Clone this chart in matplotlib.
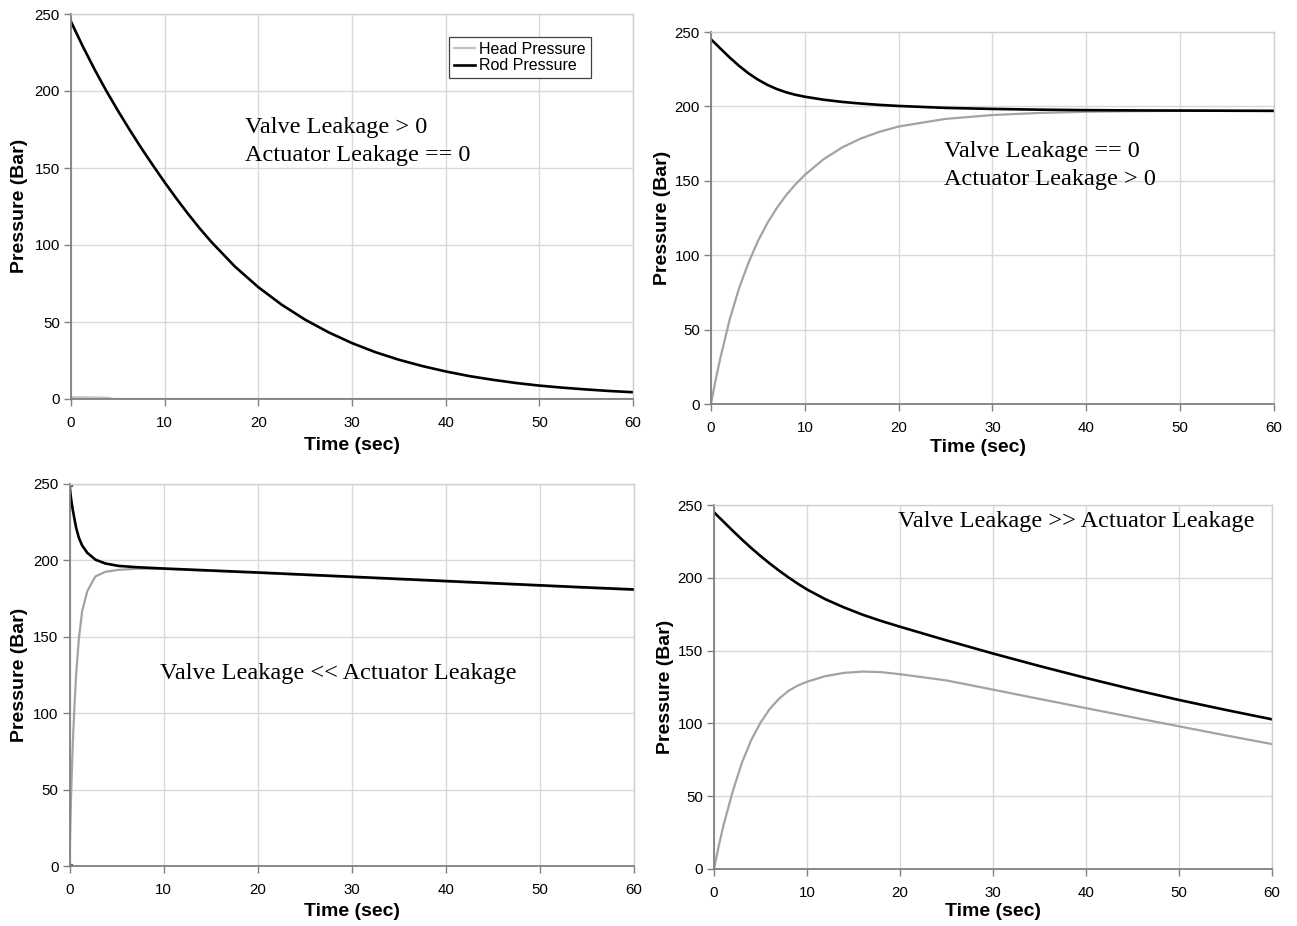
import matplotlib.pyplot as plt

plt.rcParams['font.family'] = ['Liberation Sans', 'DejaVu Sans']

W, H = 1297, 926

# ---- Case 1: valve leakage only -------------------------------------------
time_1 = [0, 1.25, 2.5, 3.75, 5, 6.25, 7.5, 8.75, 10, 11.25, 12.5, 13.75, 15,
          17.5, 20, 22.5, 25, 27.5, 30, 32.5, 35, 37.5, 40, 42.5, 45, 47.5,
          50, 52.5, 55, 57.5, 60]
rod_1 = [245, 229.1, 214.2, 200.3, 187.3, 174.9, 163.0, 151.7, 140.7, 130.2,
         120.2, 110.7, 101.9, 86.0, 72.6, 61.2, 51.5, 43.3, 36.3, 30.4, 25.5,
         21.4, 17.9, 14.9, 12.5, 10.4, 8.7, 7.35, 6.2, 5.2, 4.4]
head_time_1 = [0, 2, 4, 4.5, 60]
head_1 = [1.2, 1.0, 0.8, 0, 0]

# ---- Case 2: actuator leakage only ----------------------------------------
time_2 = [0, 0.5, 1, 2, 3, 4, 5, 6, 7, 8, 9, 10, 12, 14, 16, 18, 20, 25, 30,
          35, 40, 45, 50, 55, 60]
rod_2 = [245, 242, 238.9, 232.8, 227.2, 222.2, 218, 214.5, 211.7, 209.5,
         207.8, 206.5, 204.5, 203, 201.9, 201, 200.3, 199, 198.3, 197.8,
         197.5, 197.3, 197.2, 197.1, 197]
head_2 = [0, 16.5, 31, 57, 78, 95, 109.5, 121.5, 131.6, 140.3, 147.6, 154,
          164.5, 172.5, 178.5, 183, 186.5, 191.6, 194.2, 195.6, 196.4, 196.8,
          197, 197, 197]

# ---- Case 3: valve leakage << actuator leakage ----------------------------
time_3 = [0, 0.1, 0.2, 0.35, 0.5, 0.7, 1.0, 1.35, 1.9, 2.75, 3.8, 5.2, 7.3,
          10, 15, 20, 25, 30, 35, 40, 45, 50, 55, 60]
rod_3 = [250, 243.5, 239, 233, 228, 221.5, 214.7, 209.7, 204.9, 200.5, 198,
         196.4, 195.5, 194.7, 193.4, 192.1, 190.7, 189.3, 187.9, 186.5, 185.1,
         183.7, 182.3, 181]
head_3 = [0, 30, 53, 80, 101, 125, 149, 167, 180, 189.5, 192.5, 193.8, 194.6,
          194.4, 193.1, 191.8, 190.4, 189, 187.6, 186.2, 184.8, 183.4, 182,
          180.6]

# ---- Case 4: valve leakage >> actuator leakage ----------------------------
time_4 = [0, 0.5, 1, 2, 3, 4, 5, 6, 7, 8, 9, 10, 12, 14, 16, 18, 20, 25, 30,
          35, 40, 45, 50, 55, 60]
rod_4 = [245, 241.8, 238.7, 232.4, 226.3, 220.5, 215, 209.8, 204.9, 200.3,
         196, 192, 185.2, 179.6, 174.6, 170.3, 166.4, 157, 148, 139.4, 131.2,
         123.4, 116.1, 109.3, 102.8]
head_4 = [0, 15.5, 29.5, 53, 73, 88.5, 100.5, 110, 117, 122.3, 126, 128.6,
          132.5, 134.7, 135.6, 135.2, 133.8, 129.5, 123.2, 116.8, 110.5,
          104.2, 98, 91.8, 85.8]

x_ticks = [0, 10, 20, 30, 40, 50, 60]
y_ticks = [0, 50, 100, 150, 200, 250]

HEAD_COLOR = '#a3a3a3'
ROD_COLOR = '#000000'
GRID_COLOR = '#d9d9d9'
AXIS_COLOR = '#808080'

fig = plt.figure(figsize=(W / 100, H / 100), dpi=100)
fig.patch.set_facecolor('white')


def make_axes(left, top, right, bottom):
    """Create axes from pixel edges (origin top-left)."""
    ax = fig.add_axes([left / W, 1 - bottom / H, (right - left) / W,
                       (bottom - top) / H])
    ax.set_xlim(0, 60)
    ax.set_ylim(0, 250)
    ax.set_xticks(x_ticks)
    ax.set_yticks(y_ticks)
    ax.set_axisbelow(True)
    ax.grid(True, color=GRID_COLOR, linewidth=1.0)
    for side in ('top', 'right'):
        ax.spines[side].set_color('#cfcfcf')
        ax.spines[side].set_linewidth(1.0)
    for side in ('left', 'bottom'):
        ax.spines[side].set_color(AXIS_COLOR)
        ax.spines[side].set_linewidth(1.3)
    ax.tick_params(direction='out', length=5, width=1, color=AXIS_COLOR,
                   labelsize=10.8, labelcolor='black')
    ax.tick_params(axis='x', pad=7)
    ax.tick_params(axis='y', pad=3)
    return ax


def px_text(x, y, s, **kw):
    fig.text(x / W, 1 - y / H, s, **kw)


def axis_labels(xc, xy, yx, yc):
    px_text(xc, xy, 'Time (sec)', ha='center', va='center',
            fontsize=14, fontweight='bold')
    px_text(yx, yc, 'Pressure (Bar)', ha='center', va='center',
            fontsize=14, fontweight='bold', rotation=90)


serif = dict(family=['Liberation Serif', 'DejaVu Serif'], fontsize=17.5,
             va='center', ha='left')

# Panel 1
ax1 = make_axes(71, 14, 633, 399)
ax1.plot(head_time_1, head_1, color='#c4c4c4', lw=1.6, label='Head Pressure')
ax1.plot(time_1, rod_1, color=ROD_COLOR, lw=1.9, label='Rod Pressure')
leg = ax1.legend(loc='upper right', bbox_to_anchor=(0.925, 0.94),
                 fancybox=False, framealpha=1, edgecolor='#404040',
                 fontsize=11.5, handlelength=1.3, handletextpad=0.3,
                 borderpad=0.3, labelspacing=0.1, borderaxespad=0)
leg.get_frame().set_linewidth(0.9)
px_text(245, 128, 'Valve Leakage > 0', **serif)
px_text(245, 155, 'Actuator Leakage == 0', **serif)
axis_labels(352, 445, 20, 206)

# Panel 2
ax2 = make_axes(711, 32, 1274, 404)
ax2.plot(time_2, head_2, color=HEAD_COLOR, lw=1.6)
ax2.plot(time_2, rod_2, color=ROD_COLOR, lw=1.9)
px_text(944, 152, 'Valve Leakage == 0', **serif)
px_text(944, 179, 'Actuator Leakage > 0', **serif)
axis_labels(978, 448, 662, 218)

# Panel 3
ax3 = make_axes(69.5, 484, 634, 866)
ax3.plot(time_3, head_3, color=HEAD_COLOR, lw=1.6, marker='s', ms=3,
         markevery=[0], mfc='#606060', mec='#606060')
ax3.plot(time_3, rod_3, color=ROD_COLOR, lw=1.9, marker='s', ms=3,
         markevery=[0], mfc='#606060', mec='#606060')
px_text(160, 673, 'Valve Leakage << Actuator Leakage', **serif)
axis_labels(352, 911, 20, 675)

# Panel 4
ax4 = make_axes(714, 505, 1272, 869)
ax4.plot(time_4, head_4, color=HEAD_COLOR, lw=1.6)
ax4.plot(time_4, rod_4, color=ROD_COLOR, lw=1.9)
px_text(898, 522, 'Valve Leakage >> Actuator Leakage', **serif)
axis_labels(993, 912, 666, 687)

fig.savefig('out.png', dpi=100, facecolor='white')
